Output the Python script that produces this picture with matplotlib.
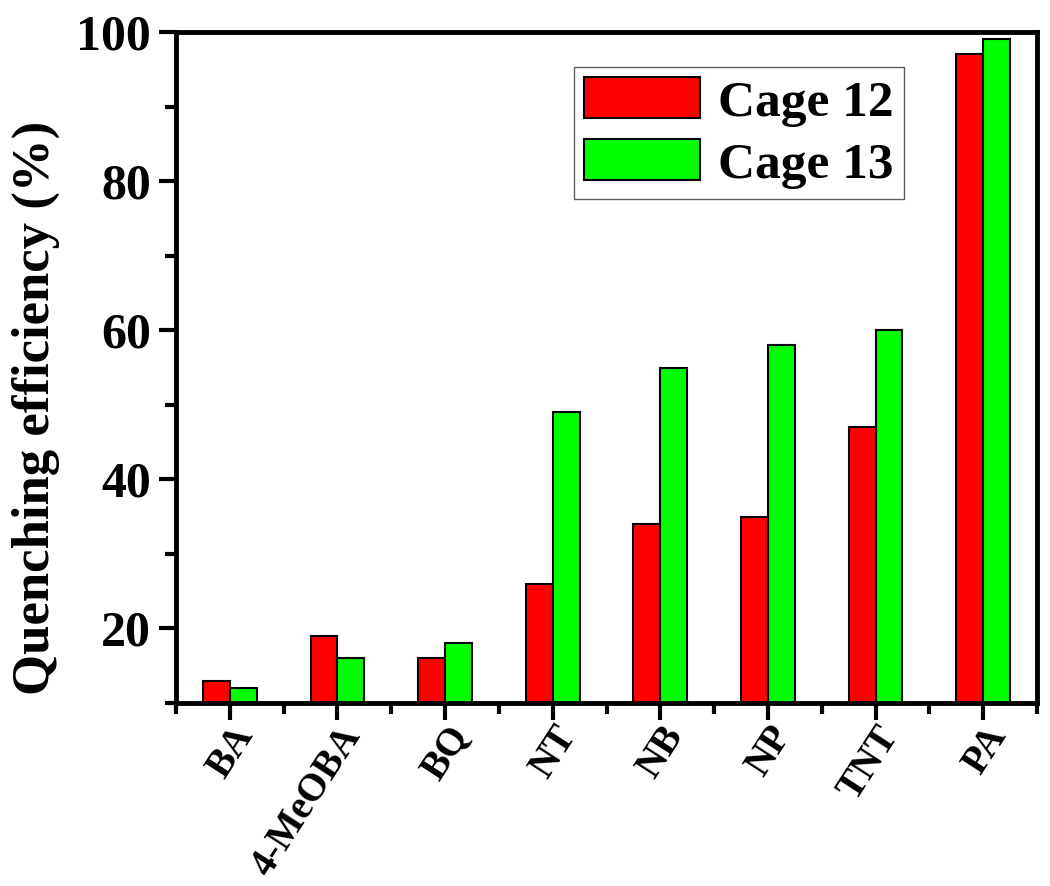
import numpy as np
import matplotlib
matplotlib.use('Agg')
import matplotlib.pyplot as plt
from matplotlib.ticker import MultipleLocator
from matplotlib.transforms import ScaledTranslation

categories = ['BA', '4-MeOBA', 'BQ', 'NT', 'NB', 'NP', 'TNT', 'PA']
cage12 = [13, 19, 16, 26, 34, 35, 47, 97]
cage13 = [12, 16, 18, 49, 55, 58, 60, 99]

plt.rcParams['font.family'] = 'Liberation Serif'
plt.rcParams['font.weight'] = 'bold'

fig = plt.figure(figsize=(10.5, 8.86), dpi=100)
ax = fig.add_axes([176 / 1050, 1 - 703 / 886, (1037 - 176) / 1050, (703 - 32) / 886])

x = np.arange(len(categories))
w = 0.25
ax.bar(x - w / 2, cage12, w, bottom=0, color='#ff0000', edgecolor='black', linewidth=1.5, label='Cage 12')
ax.bar(x + w / 2, cage13, w, bottom=0, color='#00ff00', edgecolor='black', linewidth=1.5, label='Cage 13')

ax.set_xlim(-0.5, 7.5)
ax.set_ylim(10, 100)
ax.set_xticks(x)
ax.set_xticklabels(categories, rotation=57, ha='right', va='top', rotation_mode='anchor',
                   fontsize=28, fontweight='bold')
# shift the rotated labels a bit to the right, like the original
for lbl in ax.get_xticklabels():
    lbl.set_transform(lbl.get_transform() + ScaledTranslation(0.14, 0.0, fig.dpi_scale_trans))
ax.xaxis.set_minor_locator(MultipleLocator(1, offset=0.5))
ax.set_yticks([20, 40, 60, 80, 100])
ax.yaxis.set_minor_locator(MultipleLocator(10, offset=0))
ax.tick_params(axis='y', labelsize=36)
ax.tick_params(which='major', direction='out', length=12, width=3)
ax.tick_params(which='minor', direction='out', length=8, width=3)
ax.tick_params(axis='y', which='major', pad=6)
ax.tick_params(axis='x', which='major', pad=0)
for lbl in ax.get_yticklabels():
    lbl.set_fontweight('bold')
for s in ax.spines.values():
    s.set_linewidth(3.5)

ax.set_ylabel('Quenching efficiency (%)', fontsize=38, fontweight='bold')
ax.yaxis.set_label_coords(-0.135, 0.44)

leg = ax.legend(loc='upper left', bbox_to_anchor=((574 - 176) / 861, 1 - (67 - 32) / 671),
                prop={'size': 37, 'weight': 'bold'}, frameon=True, fancybox=False,
                edgecolor='#333333', handlelength=2.25, handleheight=0.85,
                borderpad=0.2, labelspacing=0.25, handletextpad=0.35, borderaxespad=0)
leg.get_frame().set_linewidth(1.0)

fig.savefig('out.png', dpi=100)
